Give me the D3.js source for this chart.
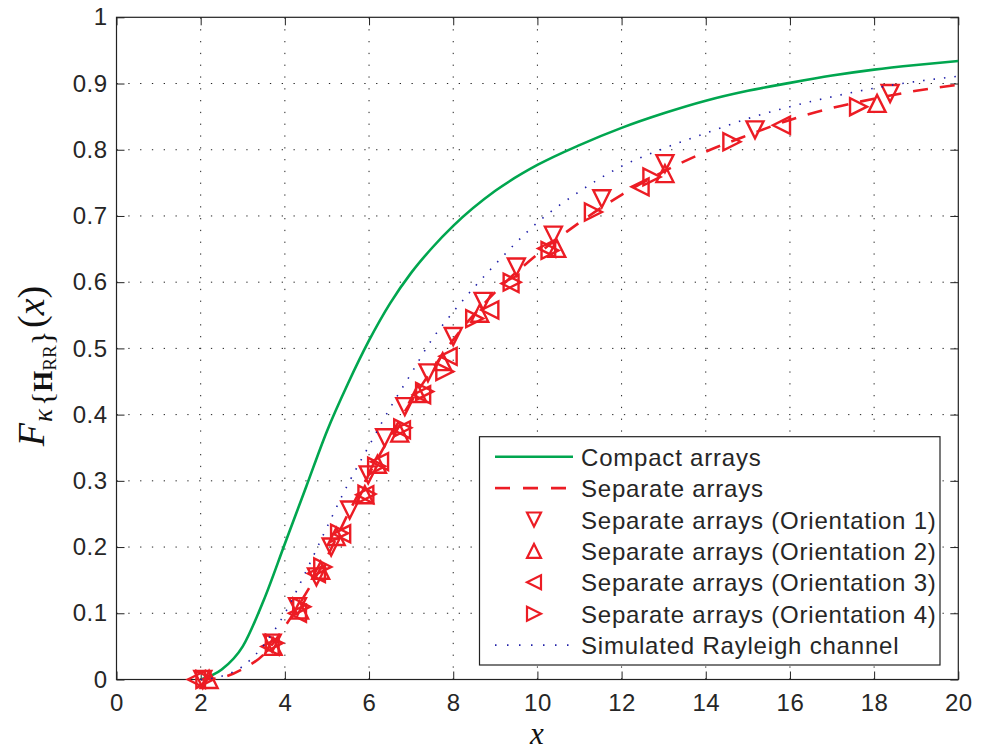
<!DOCTYPE html>
<html>
<head>
<meta charset="utf-8">
<script src="https://cdn.jsdelivr.net/npm/d3@7"></script>
<style>
  html, body { margin: 0; padding: 0; background: #fff; }
  svg { display: block; }
  text { font-family: "Liberation Sans", Arial, Helvetica, sans-serif; fill: #262626; }
  text.serif { font-family: "Liberation Serif", "DejaVu Serif", serif; fill: #111; }
</style>
</head>
<body>
<svg id="chart" width="988" height="751"></svg>
<script>
// ---------------- data ----------------
const xTicks = [0, 2, 4, 6, 8, 10, 12, 14, 16, 18, 20];
const yTicks = [0, 0.1, 0.2, 0.3, 0.4, 0.5, 0.6, 0.7, 0.8, 0.9, 1];
const yTickLabels = ["0", "0.1", "0.2", "0.3", "0.4", "0.5", "0.6", "0.7", "0.8", "0.9", "1"];

const compactX = [2.0, 2.5, 3.0, 3.5, 4.0, 4.5, 5.0, 5.5, 6.0, 6.5, 7.0, 7.5, 8.0, 9.0, 10.0, 11.0, 12.0, 13.0, 14.0, 15.0, 16.0, 17.0, 18.0, 19.0, 20.0];
const compactY = [0, 0.015, 0.05, 0.12, 0.205, 0.29, 0.375, 0.447, 0.512, 0.568, 0.614, 0.652, 0.685, 0.738, 0.777, 0.807, 0.833, 0.855, 0.874, 0.889, 0.901, 0.912, 0.921, 0.928, 0.934];

const separateX = [2.0, 2.5, 3.0, 3.5, 4.0, 4.5, 5.0, 5.5, 6.0, 6.5, 7.0, 7.5, 8.0, 9.0, 10.0, 11.0, 12.0, 13.0, 14.0, 15.0, 16.0, 17.0, 18.0, 19.0, 20.0];
const separateY = [0, 0.003, 0.016, 0.038, 0.08, 0.13, 0.185, 0.25, 0.31, 0.367, 0.42, 0.468, 0.513, 0.585, 0.642, 0.69, 0.732, 0.767, 0.797, 0.822, 0.845, 0.863, 0.877, 0.889, 0.898];

const rayleighX = [2.0, 2.5, 3.0, 3.5, 4.0, 4.5, 5.0, 5.5, 6.0, 6.5, 7.0, 7.5, 8.0, 9.0, 10.0, 11.0, 12.0, 13.0, 14.0, 15.0, 16.0, 17.0, 18.0, 19.0, 20.0];
const rayleighY = [0, 0.005, 0.02, 0.052, 0.1, 0.163, 0.23, 0.295, 0.353, 0.41, 0.462, 0.514, 0.555, 0.627, 0.69, 0.737, 0.775, 0.802, 0.825, 0.847, 0.865, 0.88, 0.893, 0.903, 0.911];

// Orientation 1 (down triangles)
const orient1X = [2.05, 3.7, 4.3, 4.75, 5.1, 5.54, 5.98, 6.37, 6.85, 7.4, 8.0, 8.71, 9.5, 10.38, 11.53, 13.03, 15.17, 18.38];
const orient1Y = [0, 0.055, 0.11, 0.155, 0.2, 0.256, 0.309, 0.365, 0.412, 0.463, 0.518, 0.571, 0.623, 0.671, 0.726, 0.779, 0.83, 0.885];
// Orientation 2 (up triangles)
const orient2X = [2.2, 3.72, 4.35, 4.85, 5.22, 5.9, 6.2, 6.73, 7.16, 7.75, 8.63, 10.46, 13.03, 18.07];
const orient2Y = [0, 0.05, 0.105, 0.165, 0.216, 0.279, 0.325, 0.372, 0.432, 0.48, 0.553, 0.651, 0.764, 0.87];
// Orientation 3 (left triangles)
const orient3X = [1.9, 3.65, 4.3, 4.75, 5.35, 5.9, 6.25, 6.77, 7.25, 7.88, 8.87, 9.35, 10.22, 12.44, 15.8];
const orient3Y = [0, 0.05, 0.1, 0.16, 0.22, 0.279, 0.329, 0.377, 0.43, 0.488, 0.558, 0.598, 0.651, 0.744, 0.837];
// Orientation 4 (right triangles)
const orient4X = [2.1, 3.75, 4.4, 4.9, 5.3, 5.95, 6.18, 6.8, 7.32, 7.8, 8.51, 9.4, 10.3, 11.33, 12.72, 14.62, 17.63];
const orient4Y = [0, 0.055, 0.11, 0.17, 0.221, 0.28, 0.322, 0.38, 0.435, 0.465, 0.545, 0.6, 0.648, 0.706, 0.759, 0.812, 0.865];

const legendLabels = ["Compact arrays", "Separate arrays", "Separate arrays (Orientation 1)", "Separate arrays (Orientation 2)", "Separate arrays (Orientation 3)", "Separate arrays (Orientation 4)", "Simulated Rayleigh channel"];

// ---------------- layout ----------------
const L = 116.5, R = 958.3, T = 17.3, B = 679.5;
const green = "#00a64f", red = "#ec1c24", blue = "#1f1fa8";

const svg = d3.select("#chart");
const x = d3.scaleLinear().domain([0, 20]).range([L, R]);
const y = d3.scaleLinear().domain([0, 1]).range([B, T]);

// grid
const grid = svg.append("g");
grid.selectAll("line.gx").data(xTicks.slice(1, -1)).join("line")
  .attr("x1", d => x(d)).attr("x2", d => x(d)).attr("y1", B).attr("y2", T)
  .attr("stroke", "#222").attr("stroke-width", 1).attr("stroke-dasharray", "1.3,10.5");
grid.selectAll("line.gy").data(yTicks.slice(1, -1)).join("line")
  .attr("y1", d => y(d)).attr("y2", d => y(d)).attr("x1", L).attr("x2", R)
  .attr("stroke", "#222").attr("stroke-width", 1).attr("stroke-dasharray", "1.3,10.5");

// axes (inward ticks on all four sides)
const fmtY = (d, i) => yTickLabels[i];
svg.append("g").attr("transform", `translate(0,${B})`)
  .call(d3.axisBottom(x).tickValues(xTicks).tickSize(-8).tickPadding(14).tickFormat(d3.format("d")))
  .call(g => g.select(".domain").remove());
svg.append("g").attr("transform", `translate(0,${T})`)
  .call(d3.axisTop(x).tickValues(xTicks).tickSize(-8).tickFormat(""))
  .call(g => g.select(".domain").remove());
svg.append("g").attr("transform", `translate(${L},0)`)
  .call(d3.axisLeft(y).tickValues(yTicks).tickSize(-8).tickPadding(9).tickFormat(fmtY))
  .call(g => g.select(".domain").remove());
svg.append("g").attr("transform", `translate(${R},0)`)
  .call(d3.axisRight(y).tickValues(yTicks).tickSize(-8).tickFormat(""))
  .call(g => g.select(".domain").remove());
svg.selectAll(".tick line").attr("stroke", "#222").attr("stroke-width", 1);
svg.selectAll(".tick text").attr("font-size", 24).attr("letter-spacing", 0.5).attr("fill", "#262626");
svg.append("rect").attr("x", L).attr("y", T).attr("width", R - L).attr("height", B - T)
  .attr("fill", "none").attr("stroke", "#222").attr("stroke-width", 1.2);

// lines
const line = d3.line().x(d => x(d[0])).y(d => y(d[1])).curve(d3.curveMonotoneX);
const zip = (a, b) => a.map((v, i) => [v, b[i]]);

svg.append("path").attr("d", line(zip(compactX, compactY)))
  .attr("fill", "none").attr("stroke", green).attr("stroke-width", 2.6);
svg.append("path").attr("d", line(zip(separateX, separateY)))
  .attr("fill", "none").attr("stroke", red).attr("stroke-width", 2.6).attr("stroke-dasharray", "15,12");

// markers
function tri(dir, s) {
  if (dir === "down") return `M${-s},${-s}L${s},${-s}L0,${s}Z`;
  if (dir === "up") return `M${-s},${s}L${s},${s}L0,${-s}Z`;
  if (dir === "left") return `M${s},${-s}L${s},${s}L${-s},0Z`;
  return `M${-s},${-s}L${-s},${s}L${s},0Z`;
}
const markerSets = [
  { xs: orient1X, ys: orient1Y, dir: "down" },
  { xs: orient2X, ys: orient2Y, dir: "up" },
  { xs: orient3X, ys: orient3Y, dir: "left" },
  { xs: orient4X, ys: orient4Y, dir: "right" }
];
markerSets.forEach(ms => {
  svg.append("g").selectAll("path").data(zip(ms.xs, ms.ys)).join("path")
    .attr("transform", d => `translate(${x(d[0])},${y(d[1])})`)
    .attr("d", tri(ms.dir, 8.5))
    .attr("fill", "none").attr("stroke", red).attr("stroke-width", 2.4).attr("stroke-linejoin", "miter");
});

svg.append("path").attr("d", line(zip(rayleighX, rayleighY)))
  .attr("fill", "none").attr("stroke", blue).attr("stroke-width", 1.6).attr("stroke-dasharray", "1.5,9");

// legend
const lg = svg.append("g");
lg.append("rect").attr("x", 479.5).attr("y", 436.7).attr("width", 460.5).attr("height", 228.3)
  .attr("fill", "#fff").attr("stroke", "#222").attr("stroke-width", 1.2);
const rowY = i => 456.7 + i * 31.4;
lg.append("line").attr("x1", 495).attr("x2", 573).attr("y1", rowY(0)).attr("y2", rowY(0))
  .attr("stroke", green).attr("stroke-width", 2.6);
lg.append("line").attr("x1", 495).attr("x2", 573).attr("y1", rowY(1)).attr("y2", rowY(1))
  .attr("stroke", red).attr("stroke-width", 2.6).attr("stroke-dasharray", "15,13");
["down", "up", "left", "right"].forEach((dir, k) => {
  lg.append("path").attr("transform", `translate(534,${rowY(k + 2)})`)
    .attr("d", tri(dir, 7)).attr("fill", "none").attr("stroke", red).attr("stroke-width", 2.2);
});
lg.append("line").attr("x1", 495).attr("x2", 573).attr("y1", rowY(6)).attr("y2", rowY(6))
  .attr("stroke", blue).attr("stroke-width", 1.6).attr("stroke-dasharray", "1.5,10.5");
lg.selectAll("text").data(legendLabels).join("text")
  .attr("x", 581).attr("y", (d, i) => rowY(i) + 9)
  .attr("font-size", 24).attr("letter-spacing", 0.8).text(d => d);

// axis labels
svg.append("text").attr("class", "serif").attr("x", 537).attr("y", 744).attr("text-anchor", "middle")
  .attr("font-style", "italic").attr("font-size", 31).text("x");

const yl = svg.append("text").attr("class", "serif").attr("transform", "translate(44,366) rotate(-90)")
  .attr("text-anchor", "middle");
yl.append("tspan").attr("font-size", 38).attr("font-style", "italic").text("F");
yl.append("tspan").attr("font-size", 27).attr("font-style", "italic").attr("dy", 8).attr("dx", 1).text("κ");
yl.append("tspan").attr("font-size", 30).attr("dx", 3).text("{");
yl.append("tspan").attr("font-size", 27).attr("font-weight", "bold").text("H");
yl.append("tspan").attr("font-size", 19).attr("dy", 4).text("RR");
yl.append("tspan").attr("font-size", 30).attr("dy", -4).text("}");
yl.append("tspan").attr("font-size", 38).attr("dy", -8).attr("dx", 3).text("(");
yl.append("tspan").attr("font-size", 38).attr("font-style", "italic").text("x");
yl.append("tspan").attr("font-size", 38).text(")");
</script>
</body>
</html>
